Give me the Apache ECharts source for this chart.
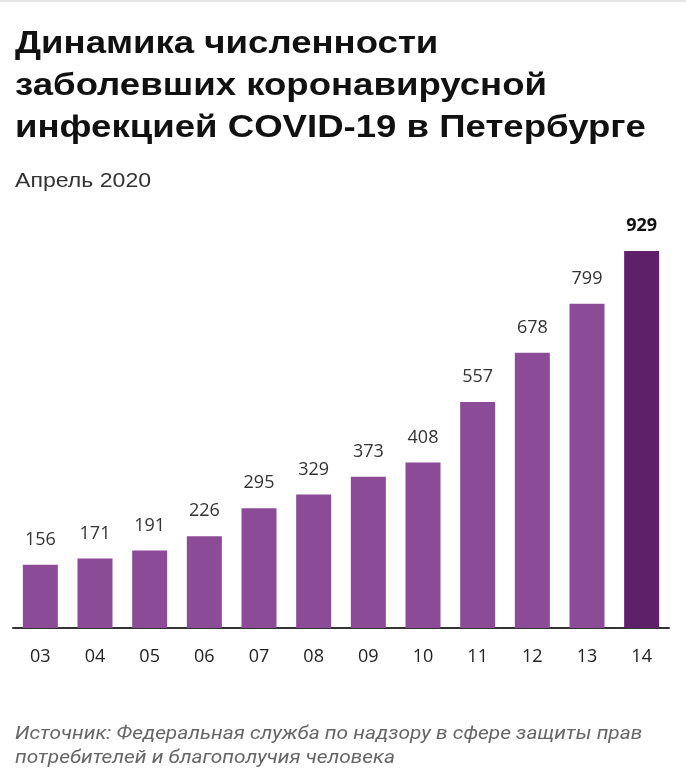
<!DOCTYPE html>
<html><head><meta charset="utf-8">
<script src="https://cdn.jsdelivr.net/npm/echarts@6/dist/echarts.min.js"></script>
<style>html,body{margin:0;padding:0;background:#fff;}#c{width:686px;height:781px;}</style>
</head><body><div id="c"></div>
<script>
const categories = ['03','04','05','06','07','08','09','10','11','12','13','14'];
const cases = [156,171,191,226,295,329,373,408,557,678,799,929];
const titleLines = ['Динамика численности','заболевших коронавирусной','инфекцией COVID-19 в Петербурге'];
const subtitleText = 'Апрель 2020';
const sourceText = 'Источник: Федеральная служба по надзору в сфере защиты прав\nпотребителей и благополучия человека';

const normalColor = '#8b4b97';
const lastColor = '#5e2068';
const chart = echarts.init(document.getElementById('c'), null, {renderer:'canvas'});
const last = cases.length - 1;
chart.setOption({
  animation:false,
  backgroundColor:'#fff',
  graphic:[
    {type:'rect', shape:{x:0,y:0,width:686,height:2}, style:{fill:'#e6e6e6'}},
    {type:'text', x:15, y:23, scaleX:1.18, style:{text:titleLines.join('\n'), font:'bold 31px "Liberation Sans", Arial, sans-serif', fill:'#111', lineHeight:42}},
    {type:'text', x:15, y:171, scaleX:1.1, style:{text:subtitleText, font:'21px "Liberation Sans", Arial, sans-serif', fill:'#333'}},
    {type:'text', x:15, y:722, scaleX:1.1, style:{text:sourceText, font:'italic 19px "Liberation Sans Narrow", Roboto, sans-serif', fill:'#666', lineHeight:24}}
  ],
  grid:{left:13, right:17, top:251, bottom:153, containLabel:false},
  xAxis:{
    type:'category', data:categories,
    axisLine:{lineStyle:{color:'#333', width:2}},
    axisTick:{show:false},
    axisLabel:{color:'#222', fontSize:18, margin:20, fontFamily:'"Open Sans", sans-serif'}
  },
  yAxis:{type:'value', min:0, max:929, show:false, splitLine:{show:false}},
  series:[{
    type:'bar', barWidth:35,
    data: cases.map((v,i)=>({value:v, itemStyle:{color: i===last?lastColor:normalColor},
      label:{fontWeight: i===last?'bold':'normal', color: i===last?'#111':'#333'}})),
    label:{show:true, position:'top', distance:16, fontSize:18, fontFamily:'"Open Sans", sans-serif', color:'#333'}
  }]
});
</script></body></html>
